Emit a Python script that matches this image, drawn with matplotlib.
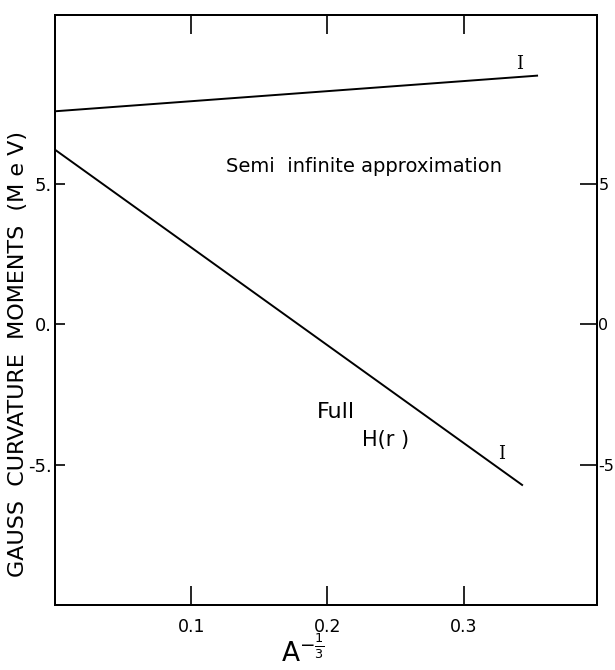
import matplotlib
matplotlib.use("Agg")
import matplotlib.pyplot as plt

# Data
x_semi = [0.0, 0.354]
y_semi = [7.6, 8.87]
x_full = [0.0, 0.343]
y_full = [6.23, -5.72]

xticks = [0.1, 0.2, 0.3]
xtick_labels = ["0.1", "0.2", "0.3"]
yticks = [-5, 0, 5]
ytick_labels_left = ["-5.", "0.", "5."]
ytick_labels_right = ["-5", "0", "5"]

plt.rcParams['font.family'] = ['DejaVu Sans']

fig = plt.figure(figsize=(6.15, 6.7), dpi=100)
ax = fig.add_axes([55/615, 1-605/670, (597-55)/615, (605-14.5)/670])

ax.plot(x_semi, y_semi, color='black', lw=1.4)
ax.plot(x_full, y_full, color='black', lw=1.4)

ax.set_xlim(0, 0.398)
ax.set_ylim(-10, 11.05)

ax.set_xticks(xticks)
ax.set_xticklabels(xtick_labels, fontsize=12.5)
ax.set_yticks(yticks)
ax.set_yticklabels(ytick_labels_left, fontsize=13)
ax.tick_params(axis='x', direction='in', length=14, width=1.2, top=True, pad=9)
ax.tick_params(axis='y', direction='in', length=7, width=1.2, pad=2)

ax2 = ax.twinx()
ax2.set_ylim(ax.get_ylim())
ax2.set_yticks(yticks)
ax2.set_yticklabels(ytick_labels_right, fontsize=11.5)
ax2.tick_params(axis='y', direction='in', length=12, width=1.2, pad=1)

for a in (ax, ax2):
    for s in a.spines.values():
        s.set_linewidth(1.4)

# annotations
ax.text(0.2267, 5.62, "Semi  infinite approximation", fontsize=14, ha='center', va='center')
ax.text(0.341, 9.27, "I", fontsize=13, ha='center', va='center', family='DejaVu Serif')
ax.text(0.2066, -3.13, "Full", fontsize=16, ha='center', va='center')
ax.text(0.2425, -4.13, "H(r )", fontsize=15, ha='center', va='center')
ax.text(0.328, -4.6, "I", fontsize=13, ha='center', va='center', family='DejaVu Serif')

fig.text(18/615, 1-354/670, "GAUSS  CURVATURE  MOMENTS  (M e V)", fontsize=16,
         rotation=90, ha='center', va='center')
fig.text(303/615, 1-652/670, r"A$^{-\frac{1}{3}}$", fontsize=19, ha='center', va='center')

fig.savefig("out.png", dpi=100)
